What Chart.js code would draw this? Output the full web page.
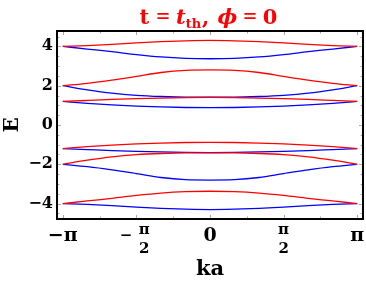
<!DOCTYPE html>
<html><head><meta charset="utf-8">
<script src="https://cdn.jsdelivr.net/npm/chart.js@4"></script>
<style>html,body{margin:0;padding:0;background:#fff;overflow:hidden}</style>
</head><body>
<canvas id="c" width="366" height="283" style="display:block;width:366px;height:283px"></canvas>
<script>
const PI = Math.PI;
// momentum samples ka
const kValues = [-PI, -5*PI/6, -2*PI/3, -PI/2, -PI/3, -PI/6, 0, PI/6, PI/3, PI/2, 2*PI/3, 5*PI/6, PI];
// bands
const bandRed1  = [4.00, 4.04, 4.10, 4.18, 4.24, 4.28, 4.30, 4.28, 4.24, 4.18, 4.10, 4.04, 4.00];
const bandBlue1 = [4.00, 3.86, 3.73, 3.58, 3.46, 3.39, 3.37, 3.39, 3.46, 3.58, 3.73, 3.86, 4.00];
const bandRed2  = [2.00, 2.12, 2.28, 2.47, 2.67, 2.78, 2.80, 2.78, 2.67, 2.47, 2.28, 2.12, 2.00];
const bandBlue2 = [2.00, 1.79, 1.62, 1.51, 1.45, 1.42, 1.42, 1.42, 1.45, 1.51, 1.62, 1.79, 2.00];
const bandRed3  = [1.20, 1.25, 1.30, 1.34, 1.37, 1.39, 1.40, 1.39, 1.37, 1.34, 1.30, 1.25, 1.20];
const bandBlue3 = [1.20, 1.10, 1.02, 0.96, 0.92, 0.89, 0.88, 0.89, 0.92, 0.96, 1.02, 1.10, 1.20];
const bandRed4  = [-1.20, -1.10, -1.02, -0.96, -0.92, -0.89, -0.88, -0.89, -0.92, -0.96, -1.02, -1.10, -1.20];
const bandBlue4 = [-1.20, -1.25, -1.30, -1.34, -1.37, -1.39, -1.40, -1.39, -1.37, -1.34, -1.30, -1.25, -1.20];
const bandRed5  = [-2.00, -1.79, -1.62, -1.51, -1.45, -1.42, -1.42, -1.42, -1.45, -1.51, -1.62, -1.79, -2.00];
const bandBlue5 = [-2.00, -2.12, -2.28, -2.47, -2.67, -2.78, -2.80, -2.78, -2.67, -2.47, -2.28, -2.12, -2.00];
const bandRed6  = [-4.00, -3.86, -3.73, -3.58, -3.46, -3.39, -3.37, -3.39, -3.46, -3.58, -3.73, -3.86, -4.00];
const bandBlue6 = [-4.00, -4.04, -4.10, -4.18, -4.24, -4.28, -4.30, -4.28, -4.24, -4.18, -4.10, -4.04, -4.00];

const xTickValues = [-PI, -PI/2, 0, PI/2, PI];
const xTickLabels = ['−π', ['   π', '−    ', '', '   2'], '0', ['π', '', '', '2'], 'π'];
const yTickValues = [-4, -2, 0, 2, 4];
const yTickLabels = ['−4', '−2', '0', '2', '4'];
const xMinorValues = [-3*PI/4, -PI/4, PI/4, 3*PI/4];
const yMinorValues = [-4.5,-3.5,-3,-2.5,-1.5,-1,-0.5,0.5,1,1.5,2.5,3,3.5,4.5];

const RED = '#ff0000', BLUE = '#0000ff';
const SERIF = '"DejaVu Serif", serif';
const SERIF2 = '"Liberation Serif", serif';

const reds = [bandRed1, bandRed2, bandRed3, bandRed4, bandRed5, bandRed6];
const blues = [bandBlue1, bandBlue2, bandBlue3, bandBlue4, bandBlue5, bandBlue6];
function mk(arr, color) {
  return { data: kValues.map((k, i) => ({ x: k, y: arr[i] })), borderColor: color, borderWidth: 1.3,
    pointRadius: 0, showLine: true, fill: false, cubicInterpolationMode: 'monotone' };
}
const datasets = [];
reds.forEach(a => datasets.push(mk(a, RED)));
blues.forEach(a => datasets.push(mk(a, BLUE)));

const framePlugin = {
  id: 'frame',
  afterDatasetsDraw(chart) {
    const { ctx, chartArea: a, scales } = chart;
    ctx.save();
    ctx.strokeStyle = '#a8a8a8';
    ctx.lineWidth = 1;
    const xs = scales.x, ys = scales.y;
    const tick = (px, len, vertical) => {
      ctx.beginPath();
      if (vertical) { ctx.moveTo(px, a.bottom); ctx.lineTo(px, a.bottom - len); ctx.moveTo(px, a.top); ctx.lineTo(px, a.top + len); }
      else { ctx.moveTo(a.left, px); ctx.lineTo(a.left + len, px); ctx.moveTo(a.right, px); ctx.lineTo(a.right - len, px); }
      ctx.stroke();
    };
    xTickValues.forEach(v => tick(Math.round(xs.getPixelForValue(v)) + 0.5, 4, true));
    xMinorValues.forEach(v => tick(Math.round(xs.getPixelForValue(v)) + 0.5, 2.5, true));
    yTickValues.forEach(v => tick(Math.round(ys.getPixelForValue(v)) + 0.5, 4, false));
    yMinorValues.forEach(v => tick(Math.round(ys.getPixelForValue(v)) + 0.5, 2.5, false));
    ctx.strokeStyle = '#000';
    ctx.lineWidth = 2;
    ctx.strokeRect(a.left, a.top, a.right - a.left, a.bottom - a.top);
    ctx.restore();
  }
};

const titlePlugin = {
  id: 'mathTitle',
  afterDraw(chart) {
    const { ctx } = chart;
    const segs = [
      { t: 't', f: 'bold 21px ' + SERIF, gap: 7 },
      { t: '=', f: 'bold 24px ' + SERIF2, gap: 6 },
      { t: 't', f: 'italic bold 21px ' + SERIF, gap: 0 },
      { t: 'th', f: 'bold 13px ' + SERIF, dy: 4, gap: 1 },
      { t: ',', f: 'bold 21px ' + SERIF, gap: 8 },
      { t: 'ϕ', f: 'italic bold 21px ' + SERIF, gap: 6 },
      { t: '=', f: 'bold 24px ' + SERIF2, gap: 6 },
      { t: '0', f: 'bold 21px ' + SERIF, gap: 0 }
    ];
    ctx.save();
    ctx.fillStyle = RED;
    ctx.textBaseline = 'alphabetic';
    ctx.textAlign = 'left';
    let total = 0;
    segs.forEach(s => { ctx.font = s.f; s.w = ctx.measureText(s.t).width; total += s.w + s.gap; });
    let x = 208.5 - total / 2;
    const y = 24;
    segs.forEach(s => { ctx.font = s.f; ctx.fillText(s.t, x, y + (s.dy || 0)); x += s.w + s.gap; });
    ctx.restore();
  }
};

new Chart(document.getElementById('c'), {
  type: 'scatter',
  data: { datasets },
  options: {
    responsive: false, animation: false, devicePixelRatio: 1,
    layout: { padding: { top: 31, right: 3, bottom: 0, left: 0 } },
    plugins: { legend: { display: false }, tooltip: { enabled: false }, title: { display: false } },
    scales: {
      x: {
        type: 'linear', min: -3.265, max: 3.265,
        afterBuildTicks: s => { s.ticks = xTickValues.map(v => ({ value: v })); },
        afterFit: s => { s.height = 64; s.paddingLeft = 0; s.paddingRight = 0; },
        grid: { display: false, drawTicks: false }, border: { display: false },
        ticks: {
          autoSkip: false, maxRotation: 0, minRotation: 0, padding: 11, color: '#000', crossAlign: 'center',
          callback: (v, i) => xTickLabels[i],
          font: ctx => {
            const i = ctx.index;
            if (i === 1 || i === 3) return { family: SERIF, weight: 'bold', size: 15, lineHeight: '6.4px' };
            return { family: SERIF, weight: 'bold', size: 19, lineHeight: '12.6px' };
          }
        },
        title: { display: true, text: 'ka', color: '#000', font: { family: SERIF, weight: 'bold', size: 21 }, padding: { top: 0, bottom: 1 } }
      },
      y: {
        type: 'linear', min: -4.78, max: 4.78,
        afterBuildTicks: s => { s.ticks = yTickValues.map(v => ({ value: v })); },
        afterFit: s => { s.width = 57; },
        grid: { display: false, drawTicks: false }, border: { display: false },
        ticks: { padding: 4, color: '#000', callback: (v, i) => yTickLabels[i],
          font: { family: SERIF, weight: 'bold', size: 16 } },
        title: { display: true, text: 'E', color: '#000', font: { family: SERIF, weight: 'bold', size: 20 }, padding: { top: 1, bottom: 0 } }
      }
    }
  },
  plugins: [framePlugin, titlePlugin]
});
</script>
</body></html>
